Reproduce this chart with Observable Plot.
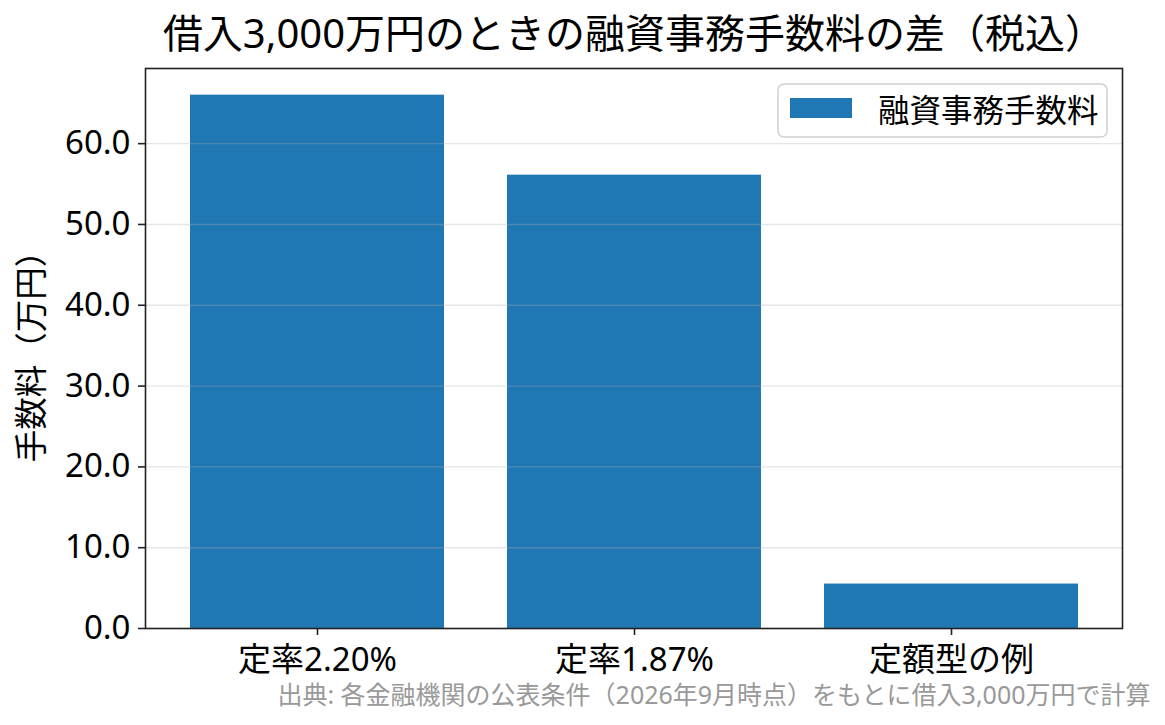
<!DOCTYPE html>
<html>
<head>
<meta charset="utf-8">
<script src="https://cdn.jsdelivr.net/npm/d3@7"></script>
<script src="https://cdn.jsdelivr.net/npm/@observablehq/plot@0.6"></script>
<style>
  html, body { margin: 0; padding: 0; background: #fff; }
  #chart { width: 1165px; height: 725px; }
</style>
</head>
<body>
<div id="chart"></div>
<script>
// ---- data ----
const categories = ["定率2.20%", "定率1.87%", "定額型の例"];
const fees = [66.0, 56.1, 5.5];
const yTicks = [0, 10, 20, 30, 40, 50, 60];
const seriesName = "融資事務手数料";
const titleText = "借入3,000万円のときの融資事務手数料の差（税込）";
const yLabelText = "手数料（万円）";
const sourceText = "出典: 各金融機関の公表条件（2026年9月時点）をもとに借入3,000万円で計算";

const data = categories.map((c, i) => ({category: c, fee: fees[i]}));

const W = 1165, H = 725;
const mTop = 68, mBottom = 97, mLeft = 145, mRight = 43;
const font = "'Noto Sans', 'Noto Sans CJK JP', sans-serif";
const barColor = "#1f77b4";

function legendMark(index, scales, values, dims) {
  const g = d3.create("svg:g");
  const boxW = 329, boxH = 53;
  const bx = dims.width - dims.marginRight - 15 - boxW;
  const by = dims.marginTop + 16;
  g.append("rect")
    .attr("x", bx).attr("y", by).attr("width", boxW).attr("height", boxH)
    .attr("rx", 6).attr("ry", 6)
    .attr("fill", "white").attr("fill-opacity", 0.8)
    .attr("stroke", "#d0d0d0").attr("stroke-width", 1.5);
  g.append("rect")
    .attr("x", bx + 12).attr("y", by + 14).attr("width", 62).attr("height", 20)
    .attr("fill", barColor);
  g.append("text")
    .attr("x", bx + 100).attr("y", by + boxH / 2)
    .attr("dy", "0.36em")
    .attr("text-anchor", "start")
    .attr("font-size", 31.5)
    .attr("font-family", font)
    .attr("fill", "#000")
    .text(seriesName);
  return g.node();
}

const chart = Plot.plot({
  width: W,
  height: H,
  marginTop: mTop,
  marginBottom: mBottom,
  marginLeft: mLeft,
  marginRight: mRight,
  style: {fontFamily: font, color: "#000", background: "#fff"},
  x: {domain: categories, paddingInner: 0.2, paddingOuter: 0.141, label: null},
  y: {domain: [0, 69.3], label: null},
  marks: [
    Plot.barY(data, {x: "category", y: "fee", fill: barColor}),
    Plot.ruleY(yTicks, {stroke: "#b0b0b0", strokeOpacity: 0.32, strokeWidth: 1.4}),
    Plot.frame({stroke: "#222", strokeWidth: 1.6}),
    Plot.axisY({ticks: yTicks, tickFormat: d => d.toFixed(1), tickSize: 7, tickPadding: 8,
                fontSize: 33, stroke: "#222", strokeWidth: 1.6, label: null}),
    Plot.axisX({tickSize: 7, tickPadding: 12, fontSize: 33, stroke: "#222", strokeWidth: 1.6, label: null}),
    Plot.text([yLabelText], {frameAnchor: "left", rotate: -90, dx: -113, fontSize: 32.5,
                             textAnchor: "middle", lineAnchor: "middle", fill: "#000"}),
    Plot.text([titleText], {frameAnchor: "top", dy: -33, fontSize: 40,
                            textAnchor: "middle", lineAnchor: "middle", fill: "#000"}),
    Plot.text([sourceText], {frameAnchor: "bottom-right", dx: 28, dy: 67, fontSize: 25,
                             textAnchor: "end", lineAnchor: "middle", fill: "#999"}),
    legendMark
  ]
});
document.getElementById("chart").appendChild(chart);
</script>
</body>
</html>
